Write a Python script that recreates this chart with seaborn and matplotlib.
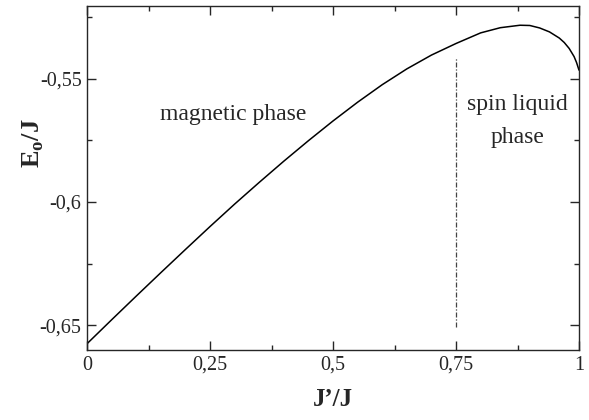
import matplotlib
matplotlib.use('Agg')
import matplotlib.pyplot as plt
import matplotlib.ticker as mticker
import seaborn as sns
import pandas as pd

# ground state energy vs J'/J
jratio = [0.0, 0.05, 0.1, 0.15, 0.2, 0.25, 0.3, 0.35, 0.4, 0.45, 0.5, 0.55, 0.6,
          0.65, 0.7, 0.75, 0.8, 0.84, 0.88, 0.9, 0.92, 0.94, 0.96, 0.97, 0.98,
          0.99, 0.995, 1.0]
energy = [-0.6574, -0.6477, -0.6381, -0.6286, -0.6192, -0.6099, -0.6008, -0.5920,
          -0.5834, -0.5751, -0.5671, -0.5595, -0.5524, -0.5460, -0.5404, -0.5357,
          -0.5314, -0.5293, -0.5283, -0.5284, -0.5294, -0.5310, -0.5335, -0.5353,
          -0.5377, -0.5410, -0.5434, -0.5465]

boundary_x = [0.75, 0.75]
boundary_y = [-0.6505, -0.5416]

df = pd.DataFrame({'jratio': jratio, 'energy': energy})

sns.set_style('ticks')
plt.rcParams['font.family'] = ['Liberation Serif', 'DejaVu Serif']
plt.rcParams['mathtext.fontset'] = 'custom'
plt.rcParams['mathtext.rm'] = 'Liberation Serif'
plt.rcParams['mathtext.bf'] = 'Liberation Serif:bold'

fig = plt.figure(figsize=(5.89, 4.2), dpi=100)
ax = fig.add_axes([0.148, 0.1667, 0.835, 0.819])

sns.lineplot(data=df, x='jratio', y='energy', color='black', linewidth=1.1, ax=ax)
ax.plot(boundary_x, boundary_y, color='#444444', linewidth=0.9,
        linestyle=(0, (4, 1.5, 1, 1.5)))

ax.set_xlim(0, 1)
ax.set_ylim(-0.66, -0.5205)

ax.xaxis.set_major_locator(mticker.MultipleLocator(0.25))
ax.xaxis.set_minor_locator(mticker.MultipleLocator(0.125))
ax.yaxis.set_major_locator(mticker.MultipleLocator(0.05))
ax.yaxis.set_minor_locator(mticker.MultipleLocator(0.025))

fmt = mticker.FuncFormatter(lambda v, p: ('%g' % round(v, 4)).replace('.', ','))
ax.xaxis.set_major_formatter(fmt)
ax.yaxis.set_major_formatter(fmt)

ax.tick_params(which='both', direction='in', top=True, right=True, width=1.0,
               labelsize=14.5, pad=4)
ax.tick_params(which='major', length=6.5)
ax.tick_params(which='minor', length=3.6)
for s in ax.spines.values():
    s.set_linewidth(1.0)
    s.set_visible(True)

ax.set_xlabel('J\u2019/J', fontsize=18, fontweight='bold')
ax.set_ylabel(r'E$_\mathbf{o}$/J', fontsize=19, fontweight='bold')
ax.xaxis.set_label_coords(0.5, -0.11)
ax.yaxis.set_label_coords(-0.084, 0.6)

ax.text(0.296, -0.5647, 'magnetic phase', fontsize=17, ha='center', va='center')
ax.text(0.875, -0.5671, 'spin liquid\nphase', fontsize=17, ha='center', va='center',
        linespacing=1.75)

fig.savefig('out.png', dpi=100)
